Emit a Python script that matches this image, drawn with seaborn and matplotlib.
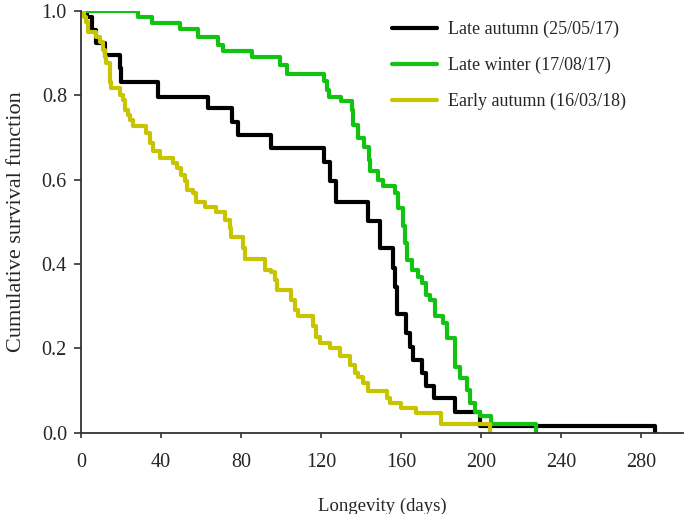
import matplotlib
matplotlib.use('Agg')
import matplotlib.pyplot as plt
import seaborn as sns
import numpy as np
import pandas as pd

# step points: (day, survival from that day on)
late_autumn_days = [0, 3.0, 5.4, 7.8, 12.0, 19.5, 20.3, 38.6, 63.5, 75.7, 78.8, 95.3, 121.7, 124.5,
                    127.5, 143.6, 149.4, 156.1, 157.0, 157.9, 162.8, 164.5, 166.2, 170.4, 172.8,
                    176.5, 187.0, 199.5, 287]
late_autumn_surv = [1.0, 0.985, 0.955, 0.924, 0.896, 0.865, 0.832, 0.797, 0.770, 0.738, 0.706,
                    0.676, 0.643, 0.596, 0.548, 0.503, 0.438, 0.390, 0.345, 0.282, 0.236, 0.204,
                    0.173, 0.141, 0.111, 0.082, 0.049, 0.017, 0.0]

late_winter_days = [0, 28.7, 35.4, 49.5, 58.7, 68.6, 71.2, 85.4, 99.5, 103.2, 121.7, 123.2, 124.2,
                    130.3, 135.4, 136.2, 138.7, 141.7, 144.1, 144.5, 148.7, 151.2, 156.9, 158.7,
                    161.1, 162.1, 163.1, 165.7, 168.7, 170.8, 172.8, 174.8, 176.9, 181.1, 182.9,
                    187.0, 189.5, 192.8, 194.5, 197.0, 199.5, 204.8, 227.7]
late_winter_surv = [1.0, 0.985, 0.971, 0.957, 0.938, 0.919, 0.904, 0.890, 0.872, 0.851, 0.833,
                    0.813, 0.797, 0.786, 0.765, 0.730, 0.698, 0.678, 0.647, 0.620, 0.600, 0.584,
                    0.568, 0.532, 0.49, 0.45, 0.41, 0.386, 0.370, 0.355, 0.327, 0.315, 0.276,
                    0.260, 0.224, 0.157, 0.130, 0.102, 0.070, 0.050, 0.039, 0.021, 0.0]

early_autumn_days = [0, 1.5, 2.8, 3.7, 7.8, 9.5, 11.2, 12.0, 12.8, 14.5, 15.3, 19.5, 21.1, 22.0,
                     23.7, 24.5, 26.1, 32.8, 34.5, 36.2, 39.5, 46.1, 47.9, 50.3, 52.0, 53.3,
                     56.1, 57.5, 62.0, 67.8, 72.0, 74.5, 75.3, 81.1, 82.0, 92.0, 95.3, 97.0, 97.9,
                     105.3, 107.0, 108.7, 116.2, 117.8, 119.5, 124.5, 129.5, 134.5, 137.0, 138.7,
                     141.2, 143.6, 152.9, 154.5, 160.3, 167.8, 179.9, 204.3]
early_autumn_surv = [1.0, 0.985, 0.975, 0.951, 0.939, 0.927, 0.908, 0.892, 0.876, 0.832, 0.817,
                     0.801, 0.789, 0.765, 0.754, 0.742, 0.727, 0.710, 0.687, 0.667, 0.651, 0.639,
                     0.627, 0.611, 0.596, 0.576, 0.568, 0.548, 0.536, 0.524, 0.505, 0.485, 0.465,
                     0.438, 0.412, 0.386, 0.382, 0.363, 0.339, 0.315, 0.291, 0.276, 0.252, 0.228,
                     0.213, 0.201, 0.181, 0.161, 0.141, 0.133, 0.118, 0.098, 0.082, 0.070, 0.059,
                     0.047, 0.021, 0.0]

groups = ['Late autumn (25/05/17)', 'Late winter (17/08/17)', 'Early autumn (16/03/18)']
colors = ['#000000', '#12C312', '#C8C400']
xticks = [0, 40, 80, 120, 160, 200, 240, 280]
yticks = [0.0, 0.2, 0.4, 0.6, 0.8, 1.0]

df = pd.concat([
    pd.DataFrame({'day': late_autumn_days, 'surv': late_autumn_surv, 'group': groups[0]}),
    pd.DataFrame({'day': late_winter_days, 'surv': late_winter_surv, 'group': groups[1]}),
    pd.DataFrame({'day': early_autumn_days, 'surv': early_autumn_surv, 'group': groups[2]}),
], ignore_index=True)

sns.set_style('ticks')
plt.rcParams['font.family'] = ['Liberation Serif', 'DejaVu Serif']

fig = plt.figure(figsize=(6.85, 5.14), dpi=100)
ax = fig.add_axes([0.118, 0.158, 0.879, 0.8206])

sns.lineplot(data=df, x='day', y='surv', hue='group', hue_order=groups,
             palette=dict(zip(groups, colors)), drawstyle='steps-post',
             estimator=None, sort=False, lw=3, ax=ax)

ax.set_xlim(0, 301)
ax.set_ylim(0, 1.0)
ax.set_xticks(xticks)
ax.set_yticks(yticks)
ax.set_yticklabels([f'{v:.1f}' for v in yticks])
ax.tick_params(axis='x', labelsize=14.5, length=3.8, width=1.2, color='#333333', pad=11)
ax.tick_params(axis='y', labelsize=14.5, length=5, width=1.2, color='#333333', pad=5)
for s in ['top', 'right']:
    ax.spines[s].set_visible(False)
for s in ['left', 'bottom']:
    ax.spines[s].set_linewidth(1.3)
    ax.spines[s].set_color('#333333')

ax.set_xlabel('Longevity (days)', fontsize=13.5, labelpad=18)
ax.set_ylabel('Cumulative survival function', fontsize=16, labelpad=11)

leg = ax.legend(loc='upper left', bbox_to_anchor=(392 / 685, 1 - 21 / 514),
                bbox_transform=fig.transFigure, frameon=False, fontsize=13,
                borderpad=0, borderaxespad=0, handlelength=2.5, handletextpad=0.6,
                labelspacing=1.04)
for line in leg.get_lines():
    line.set_linewidth(3)

fig.savefig('out.png', dpi=100)
